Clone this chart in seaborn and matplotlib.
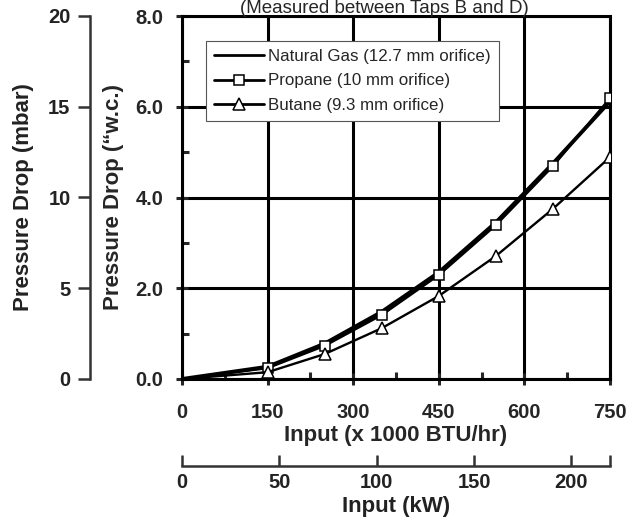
import pandas as pd
import matplotlib
matplotlib.use("Agg")
import matplotlib.pyplot as plt
import seaborn as sns
from matplotlib.ticker import MultipleLocator, FixedLocator

# значения
input_kbtu = [0, 150, 250, 350, 450, 550, 650, 750]
natural_gas = [0, 0.27, 0.78, 1.48, 2.35, 3.45, 4.75, 6.12]
propane = [0, 0.24, 0.73, 1.41, 2.29, 3.39, 4.69, 6.19]
butane = [0, 0.15, 0.55, 1.12, 1.83, 2.71, 3.75, 4.89]

series_labels = ["Natural Gas (12.7 mm orifice)", "Propane (10 mm orifice)", "Butane (9.3 mm orifice)"]
x_ticks = [0, 150, 300, 450, 600, 750]
y_ticks = [0.0, 2.0, 4.0, 6.0, 8.0]
mbar_ticks = [0, 5, 10, 15, 20]
kw_ticks = [0, 50, 100, 150, 200]

KBTU_TO_KW = 0.29307

sns.set_style("white")
plt.rcParams["font.family"] = ["Liberation Sans", "DejaVu Sans"]

TICK_FS = 14.5
LABEL_FS = 16

fig = plt.figure(figsize=(6.44, 5.22), dpi=100)
ax = fig.add_axes([182 / 644, 1 - 379 / 522, 428 / 644, 363 / 522])

df = pd.DataFrame({"x": input_kbtu, "ng": natural_gas, "pr": propane, "bu": butane})
marks = list(range(1, len(input_kbtu)))
sns.lineplot(data=df, x="x", y="ng", ax=ax, color="black", lw=2.8, label=series_labels[0], zorder=5)
sns.lineplot(data=df, x="x", y="pr", ax=ax, color="black", lw=1.7, marker="s", markersize=7.5,
             markerfacecolor="white", markeredgecolor="black", markeredgewidth=1.1,
             markevery=marks, label=series_labels[1], zorder=6)
sns.lineplot(data=df, x="x", y="bu", ax=ax, color="black", lw=1.7, marker="^", markersize=8.5,
             markerfacecolor="white", markeredgecolor="black", markeredgewidth=1.1,
             markevery=marks, label=series_labels[2], zorder=6)

ax.set_xlim(0, 750)
ax.set_ylim(0, 8)
ax.set_xticks(x_ticks)
ax.set_yticks(y_ticks)
ax.set_yticklabels([f"{v:.1f}" for v in y_ticks])
ax.xaxis.set_minor_locator(MultipleLocator(75))
ax.yaxis.set_minor_locator(MultipleLocator(1))
ax.grid(True, which="major", color="black", lw=2.2)
for s in ax.spines.values():
    s.set_color("black")
    s.set_linewidth(2.2)
ax.tick_params(which="major", direction="inout", length=9, width=2.2, labelsize=TICK_FS, pad=9)
ax.tick_params(axis="x", which="major", pad=13)
ax.tick_params(which="minor", direction="in", length=5, width=2.2)
for lbl in ax.get_xticklabels() + ax.get_yticklabels():
    lbl.set_fontweight("bold")
ax.set_xlabel("Input (x 1000 BTU/hr)", fontsize=LABEL_FS, fontweight="bold", labelpad=2)
ax.set_ylabel("Pressure Drop (“w.c.)", fontsize=LABEL_FS, fontweight="bold", labelpad=8)

leg = ax.legend(loc="upper left", bbox_to_anchor=(0.056, 0.932), fontsize=12.2, frameon=True,
                fancybox=False, edgecolor="#555555", framealpha=1, handlelength=2.9,
                labelspacing=0.55, borderpad=0.5, handletextpad=0.25, borderaxespad=0)
leg.get_frame().set_linewidth(0.8)
for h in leg.get_lines():
    h.set_linewidth(2.0)

# левая ось в mbar
ax_mbar = ax.twinx()
ax_mbar.yaxis.set_ticks_position("left")
ax_mbar.yaxis.set_label_position("left")
ax_mbar.spines["left"].set_position(("axes", (90 - 182) / 428))
for name in ["right", "top", "bottom"]:
    ax_mbar.spines[name].set_visible(False)
ax_mbar.spines["left"].set_color("#333333")
ax_mbar.spines["left"].set_linewidth(1.8)
ax_mbar.yaxis.set_major_locator(FixedLocator(mbar_ticks))
ax_mbar.set_ylim(0, 20)
ax_mbar.tick_params(axis="y", direction="out", length=9, width=1.8, color="#333333",
                    labelsize=TICK_FS, pad=5, labelcolor="#222222")
for lbl in ax_mbar.get_yticklabels():
    lbl.set_fontweight("bold")
ax_mbar.set_ylabel("Pressure Drop (mbar)", fontsize=LABEL_FS, fontweight="bold", color="#222222", labelpad=10)

# нижняя ось в kW
ax_kw = ax.twiny()
ax_kw.xaxis.set_ticks_position("bottom")
ax_kw.xaxis.set_label_position("bottom")
ax_kw.spines["bottom"].set_position(("axes", (379 - 466) / 363))
for name in ["right", "top", "left"]:
    ax_kw.spines[name].set_visible(False)
ax_kw.spines["bottom"].set_color("#333333")
ax_kw.spines["bottom"].set_linewidth(1.8)
kw_max = 750 * KBTU_TO_KW
ax_kw.set_xlim(0, kw_max)
ax_kw.set_xticks(kw_ticks + [kw_max])
ax_kw.set_xticklabels([str(v) for v in kw_ticks] + [""])
ax_kw.tick_params(axis="x", direction="in", length=8, width=1.8, color="#333333",
                  labelsize=TICK_FS, pad=5, labelcolor="#222222")
for lbl in ax_kw.get_xticklabels():
    lbl.set_fontweight("bold")
ax_kw.set_xlabel("Input (kW)", fontsize=LABEL_FS, fontweight="bold", color="#222222", labelpad=3)
ax_kw.grid(False)
ax_mbar.grid(False)

fig.text(384 / 644, 1 - 13 / 522, "(Measured between Taps B and D)", ha="center", va="baseline",
         fontsize=13.5)

fig.savefig("out.png", dpi=100)
